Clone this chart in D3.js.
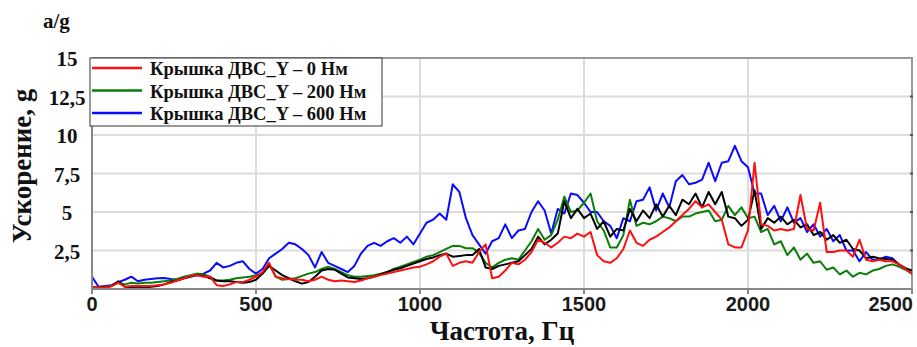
<!DOCTYPE html>
<html>
<head>
<meta charset="utf-8">
<script src="https://cdn.jsdelivr.net/npm/d3@7"></script>
<style>
    html, body { margin: 0; padding: 0; background: #fff; }
    svg { display: block; }
</style>
</head>
<body>
<div id="chart"></div>
<script>
/* ============================================================
   DATA, 20 Hz grid
============================================================ */

const freqs = [
    0, 20, 40, 60, 80, 100, 120, 140, 160, 180,
    200, 220, 240, 260, 280, 300, 320, 340, 360, 380,
    400, 420, 440, 460, 480, 500, 520, 540, 560, 580,
    600, 620, 640, 660, 680, 700, 720, 740, 760, 780,
    800, 820, 840, 860, 880, 900, 920, 940, 960, 980,
    1000, 1020, 1040, 1060, 1080, 1100, 1120, 1140, 1160, 1180,
    1200, 1220, 1240, 1260, 1280, 1300, 1320, 1340, 1360, 1380,
    1400, 1420, 1440, 1460, 1480, 1500, 1520, 1540, 1560, 1580,
    1600, 1620, 1640, 1660, 1680, 1700, 1720, 1740, 1760, 1780,
    1800, 1820, 1840, 1860, 1880, 1900, 1920, 1940, 1960, 1980,
    2000, 2020, 2040, 2060, 2080, 2100, 2120, 2140, 2160, 2180,
    2200, 2220, 2240, 2260, 2280, 2300, 2320, 2340, 2360, 2380,
    2400, 2420, 2440, 2460, 2480, 2500
];

// Крышка ДВС_Y – 0 Нм
const red0 = [
    0.1, 0.1, 0.1, 0.2, 0.4, 0.15, 0.2, 0.2, 0.2, 0.2,
    0.25, 0.3, 0.4, 0.55, 0.7, 0.85, 0.9, 0.8, 0.8, 0.25,
    0.2, 0.3, 0.45, 0.45, 0.6, 0.8, 1.1, 1.7, 0.8, 0.7,
    0.65, 0.6, 0.6, 0.5, 0.6, 0.8, 0.6, 0.5, 0.55, 0.5,
    0.45, 0.55, 0.7, 0.8, 0.9, 1.0, 1.1, 1.2, 1.3, 1.4,
    1.45, 1.6, 1.8, 2.1, 2.3, 1.5, 1.7, 1.8, 1.7, 2.4,
    2.9, 0.7, 0.8, 1.2, 1.7, 1.6, 1.9, 2.4, 3.2, 3.0,
    2.7, 3.0, 3.4, 3.3, 3.6, 3.4, 3.7, 2.2, 1.8, 1.7,
    2.0, 2.6, 3.8, 3.0, 2.8, 3.2, 3.4, 3.7, 4.0, 4.4,
    4.8, 5.2, 5.7, 5.3, 5.5, 5.0, 4.5, 2.9, 2.7, 2.7,
    3.8, 8.2, 4.2, 4.1, 3.8, 3.9, 3.8, 3.9, 6.1, 3.9,
    3.8, 5.6, 2.4, 2.4, 2.5, 2.5, 2.1, 3.2, 1.9, 1.8,
    1.9, 1.8, 1.8, 1.6, 1.3, 1.0
];

// Крышка ДВС_Y – 200 Нм
const green200 = [
    0.1, 0.1, 0.15, 0.2, 0.4, 0.3, 0.4, 0.35, 0.4, 0.4,
    0.45, 0.5, 0.55, 0.65, 0.8, 0.9, 1.0, 0.95, 0.8, 0.55,
    0.55, 0.6, 0.7, 0.75, 0.8, 0.9, 1.0, 1.6, 0.8, 0.6,
    0.65, 0.7, 0.85, 1.0, 1.1, 1.3, 1.45, 1.3, 1.1, 0.9,
    0.8, 0.8, 0.85, 0.9, 1.0, 1.1, 1.3, 1.45, 1.6, 1.75,
    1.9, 2.1, 2.2, 2.4, 2.6, 2.8, 2.8, 2.65, 2.65, 2.35,
    1.7, 1.4, 1.7, 1.9, 2.0, 1.9, 2.5, 3.1, 3.9, 3.2,
    3.5, 4.5, 6.0, 5.0, 5.1, 5.6, 6.2, 4.4, 3.8, 2.7,
    2.7, 3.5, 5.8, 4.1, 4.3, 4.2, 4.4, 4.7, 4.6, 4.4,
    4.7, 4.7, 4.9, 5.0, 5.1, 4.4, 4.5, 5.4, 4.8, 5.3,
    4.6, 4.7, 3.7, 3.9, 2.9, 3.1, 2.2, 2.7, 1.9, 2.3,
    1.7, 1.8, 1.25, 1.4, 0.95, 1.2, 0.8, 1.05, 0.95, 1.2,
    1.3, 1.5, 1.6, 1.45, 1.25, 1.0
];

// Крышка ДВС_Y – 600 Нм
const blue600 = [
    0.8, 0.15, 0.2, 0.25, 0.45, 0.6, 0.8, 0.5, 0.6, 0.65,
    0.7, 0.72, 0.65, 0.6, 0.7, 0.85, 0.9, 1.0, 1.2, 1.7,
    1.4, 1.5, 1.7, 1.8, 1.3, 1.0, 1.3, 2.0, 2.3, 2.6,
    3.0, 2.9, 2.6, 2.2, 1.4, 2.4, 1.7, 1.5, 1.3, 1.1,
    1.5, 2.3, 2.8, 3.0, 2.8, 3.1, 3.3, 3.0, 3.4, 2.9,
    3.6, 4.3, 4.5, 4.9, 4.5, 6.8, 6.3, 4.6, 3.5, 2.9,
    2.3, 3.1, 3.3, 4.2, 3.3, 3.8, 3.9, 5.0, 5.7, 5.1,
    3.6, 5.2, 4.9, 6.2, 6.1, 5.6, 5.0, 5.0, 4.4, 4.1,
    3.3, 4.6, 4.4, 5.7, 5.8, 6.6, 5.1, 6.2, 5.3, 7.0,
    7.4, 6.8, 6.9, 7.1, 8.2, 7.0, 8.2, 8.3, 9.3, 8.3,
    7.9, 6.2, 6.2, 4.8, 5.4, 4.4, 5.3, 4.3, 4.6, 3.7,
    4.2, 3.4, 3.9, 3.1, 3.5, 2.5, 2.5, 1.8, 2.4, 1.9,
    1.9, 2.1, 2.0, 1.6, 1.3, 1.0
];

// unlabeled black trace
const black = [
    0.1, 0.1, 0.1, 0.2, 0.5, 0.15, 0.1, 0.05, 0.1, 0.15,
    0.2, 0.3, 0.45, 0.55, 0.7, 0.8, 0.9, 0.85, 0.7, 0.55,
    0.5, 0.5, 0.45, 0.4, 0.45, 0.6, 1.0, 1.5, 1.2, 0.9,
    0.7, 0.5, 0.35, 0.45, 0.8, 1.2, 1.3, 1.25, 1.0, 0.75,
    0.7, 0.65, 0.7, 0.8, 0.95, 1.1, 1.25, 1.35, 1.5, 1.65,
    1.8, 1.95, 2.05, 2.2, 2.3, 2.1, 2.15, 2.2, 2.2, 2.6,
    1.4, 1.3, 1.5, 1.6, 1.7, 1.8, 2.2, 2.6, 3.4, 2.9,
    3.2, 3.6, 5.7, 4.6, 5.2, 4.6, 4.9, 3.9, 4.4, 3.4,
    3.9, 3.8, 5.2, 4.4, 5.1, 4.6, 5.5, 4.7, 5.4, 4.8,
    5.8, 5.5, 6.2, 5.3, 6.3, 5.5, 6.3, 4.7, 4.6, 4.1,
    4.5, 6.4, 3.9, 4.6, 4.3, 4.7, 4.2, 4.5, 4.0, 4.2,
    3.5, 3.7, 3.2, 3.5, 3.0, 3.2, 2.6, 2.5, 2.0, 2.1,
    2.0, 1.95, 1.9, 1.6, 1.35, 1.2
];

const xTicks = [0, 500, 1000, 1500, 2000, 2500];
const yTicks = [2.5, 5, 7.5, 10, 12.5, 15];
const yTickLabels = ["2,5", "5", "7,5", "10", "12,5", "15"];

const legendNames = [
    "Крышка ДВС_Y – 0 Нм",
    "Крышка ДВС_Y – 200 Нм",
    "Крышка ДВС_Y – 600 Нм"
];

const RED = "#ff1010";
const GREEN = "#0a7d0a";
const BLUE = "#0a0aff";
const BLACK = "#000000";

/* ============================================================
   LAYOUT
============================================================ */

const W = 917, H = 347;
const margin = { top: 58, right: 5, bottom: 58, left: 92 };
const width = W - margin.left - margin.right;
const height = H - margin.top - margin.bottom;

const SERIF = "'Liberation Serif', 'Times New Roman', serif";
const SANS = "'Liberation Sans', Arial, sans-serif";

const svg = d3.select("#chart")
    .append("svg")
    .attr("width", W)
    .attr("height", H);

const g = svg.append("g")
    .attr("transform", `translate(${margin.left},${margin.top})`);

const x = d3.scaleLinear().domain([0, 2500]).range([0, width]);
const y = d3.scaleLinear().domain([0, 15]).range([height, 0]);

/* ============================================================
   GRID + FRAME
============================================================ */

g.append("g")
    .selectAll("line")
    .data(yTicks.filter(v => v < 15))
    .join("line")
    .attr("x1", 0).attr("x2", width)
    .attr("y1", d => y(d)).attr("y2", d => y(d))
    .attr("stroke", "#dcdcdc")
    .attr("stroke-width", 2);

g.append("g")
    .selectAll("line")
    .data(xTicks.filter(v => v > 0 && v < 2500))
    .join("line")
    .attr("x1", d => x(d)).attr("x2", d => x(d))
    .attr("y1", 0).attr("y2", height)
    .attr("stroke", "#dcdcdc")
    .attr("stroke-width", 2);

// top + right frame
g.append("path")
    .attr("d", `M0,0H${width}V${height}`)
    .attr("fill", "none")
    .attr("stroke", "#9a9a9a")
    .attr("stroke-width", 2);

// little marks on the right frame
g.append("g")
    .selectAll("line")
    .data(yTicks.filter(v => v < 15))
    .join("line")
    .attr("x1", width - 2).attr("x2", width + 1)
    .attr("y1", d => y(d)).attr("y2", d => y(d))
    .attr("stroke", "#555")
    .attr("stroke-width", 2);

/* ============================================================
   SERIES
============================================================ */

g.append("clipPath")
    .attr("id", "plot-clip")
    .append("rect")
    .attr("width", width)
    .attr("height", height);

const line = d3.line()
    .x((d, i) => x(freqs[i]))
    .y(d => y(d));

// draw order: blue under, red on top
const series = [
    { values: blue600, color: BLUE },
    { values: green200, color: GREEN },
    { values: black, color: BLACK },
    { values: red0, color: RED }
];

g.append("g")
    .attr("clip-path", "url(#plot-clip)")
    .selectAll("path")
    .data(series)
    .join("path")
    .attr("d", d => line(d.values))
    .attr("fill", "none")
    .attr("stroke", d => d.color)
    .attr("stroke-width", 2)
    .attr("stroke-linejoin", "round");

/* ============================================================
   AXES
============================================================ */

// left + bottom axis lines
g.append("path")
    .attr("d", `M0,0V${height}H${width}`)
    .attr("fill", "none")
    .attr("stroke", "#888")
    .attr("stroke-width", 2);

g.append("g")
    .selectAll("line")
    .data(xTicks)
    .join("line")
    .attr("x1", d => x(d)).attr("x2", d => x(d))
    .attr("y1", height).attr("y2", height + 5)
    .attr("stroke", "#888")
    .attr("stroke-width", 2);

g.append("g")
    .selectAll("text")
    .data(xTicks)
    .join("text")
    .attr("x", d => x(d) + (d === 2500 ? 1 : 0))
    .attr("y", height + 22)
    .attr("text-anchor", d => d === 2500 ? "end" : "middle")
    .attr("font-family", SANS)
    .attr("font-weight", "bold")
    .attr("font-size", "20px")
    .attr("fill", "#1a1a1a")
    .text(d => d);

g.append("g")
    .selectAll("text")
    .data(yTicks)
    .join("text")
    .attr("x", -25)
    .attr("y", d => y(d) + 8)
    .attr("text-anchor", "middle")
    .attr("font-family", SERIF)
    .attr("font-weight", "bold")
    .attr("font-size", "21px")
    .attr("fill", "#111")
    .text((d, i) => yTickLabels[i]);

svg.append("text")
    .attr("x", margin.left + width / 2)
    .attr("y", 340)
    .attr("text-anchor", "middle")
    .attr("font-family", SERIF)
    .attr("font-weight", "bold")
    .attr("font-size", "27px")
    .attr("fill", "#111")
    .text("Частота, Гц");

svg.append("text")
    .attr("transform", "translate(31,166) rotate(-90)")
    .attr("text-anchor", "middle")
    .attr("font-family", SERIF)
    .attr("font-weight", "bold")
    .attr("font-size", "27px")
    .attr("fill", "#111")
    .text("Ускорение, g");

svg.append("text")
    .attr("x", 43)
    .attr("y", 28)
    .attr("font-family", SERIF)
    .attr("font-weight", "bold")
    .attr("font-size", "21px")
    .attr("fill", "#111")
    .text("a/g");

/* ============================================================
   LEGEND
============================================================ */

const legendColors = [RED, GREEN, BLUE];

const legend = svg.append("g")
    .attr("transform", "translate(90,58)");

legend.append("rect")
    .attr("width", 292)
    .attr("height", 68)
    .attr("fill", "#fff")
    .attr("stroke", "#333")
    .attr("stroke-width", 1);

const legendRows = legend.selectAll("g.row")
    .data(legendNames)
    .join("g")
    .attr("class", "row")
    .attr("transform", (d, i) => `translate(0,${10 + i * 22.5})`);

legendRows.append("line")
    .attr("x1", 2).attr("x2", 52)
    .attr("stroke", (d, i) => legendColors[i])
    .attr("stroke-width", 2.5);

legendRows.append("text")
    .attr("x", 60)
    .attr("y", 7)
    .attr("font-family", SERIF)
    .attr("font-weight", "bold")
    .attr("font-size", "18.5px")
    .attr("fill", "#111")
    .text(d => d);
</script>
</body>
</html>
